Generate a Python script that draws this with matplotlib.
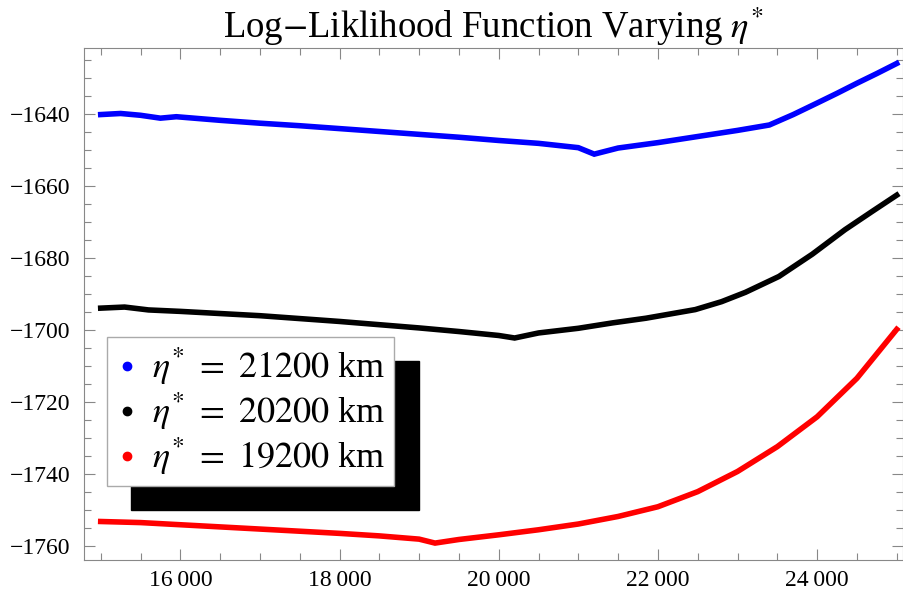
import matplotlib
matplotlib.use('Agg')
from matplotlib import pyplot as plt
from matplotlib.lines import Line2D
from matplotlib.ticker import FuncFormatter, MultipleLocator

plt.rcParams['font.family'] = ['Liberation Serif', 'DejaVu Serif']
plt.rcParams['mathtext.fontset'] = 'stix'

# log-likelihood curves for three values of eta*
etaBlue = [15000, 15250, 15500, 15750, 15950, 16500, 17000, 17500, 18000, 18500, 19000,
           19500, 20000, 20500, 21000, 21200, 21500, 22000, 22500, 23000, 23400, 23700,
           24000, 24250, 24500, 24750, 25000]
llBlue = [-1640.2, -1639.9, -1640.4, -1641.2, -1640.8, -1641.8, -1642.6, -1643.3, -1644.1,
          -1644.9, -1645.7, -1646.5, -1647.4, -1648.2, -1649.4, -1651.2, -1649.5, -1648.0,
          -1646.3, -1644.6, -1643.1, -1640.2, -1637.0, -1634.3, -1631.5, -1628.8, -1626.0]

etaBlack = [15000, 15300, 15600, 16000, 16500, 17000, 17500, 18000, 18500, 19000, 19500,
            20000, 20200, 20500, 21000, 21430, 21850, 22470, 22800, 23100, 23520, 23940,
            24350, 24700, 25000]
llBlack = [-1694.0, -1693.7, -1694.5, -1694.9, -1695.5, -1696.1, -1696.9, -1697.7, -1698.6,
           -1699.5, -1700.5, -1701.6, -1702.3, -1700.9, -1699.6, -1698.1, -1696.8, -1694.4,
           -1692.2, -1689.6, -1685.2, -1679.0, -1672.2, -1667.0, -1662.6]

etaRed = [15000, 15500, 16000, 16500, 17000, 17500, 18000, 18500, 19000, 19200, 19500,
          20000, 20500, 21000, 21500, 22000, 22500, 23000, 23500, 24000, 24500, 25000]
llRed = [-1753.3, -1753.6, -1754.2, -1754.8, -1755.4, -1756.0, -1756.6, -1757.3, -1758.2,
         -1759.3, -1758.3, -1757.0, -1755.6, -1754.0, -1751.9, -1749.2, -1745.0, -1739.4,
         -1732.5, -1724.2, -1713.5, -1699.9]

legendLabels = [r'$\eta^{*}\ =\ 21200$ km', r'$\eta^{*}\ =\ 20200$ km',
                r'$\eta^{*}\ =\ 19200$ km']
colors = ['#0000ff', '#000000', '#ff0000']

fig = plt.figure(figsize=(9.04, 5.93), dpi=100)
ax = fig.add_axes([84 / 904, 33 / 593, 819 / 904, 512 / 593])

for x, y, c in zip([etaBlue, etaBlack, etaRed], [llBlue, llBlack, llRed], colors):
    ax.plot(x, y, color=c, linewidth=4, solid_joinstyle='miter')

ax.set_xlim(14790, 25079)
ax.set_ylim(-1764.0, -1621.7)

ax.xaxis.set_major_locator(MultipleLocator(2000))
ax.xaxis.set_minor_locator(MultipleLocator(500))
ax.yaxis.set_major_locator(MultipleLocator(20))
ax.yaxis.set_minor_locator(MultipleLocator(5))
ax.xaxis.set_major_formatter(FuncFormatter(lambda v, p: '%d\u2009%03d' % (int(v) // 1000, int(v) % 1000)))
ax.yaxis.set_major_formatter(FuncFormatter(lambda v, p: '\u2212%d' % abs(int(round(v)))))

ax.tick_params(which='both', direction='in', top=True, right=True, color='#888888', width=0.8)
ax.tick_params(which='major', length=8, labelsize=17, pad=7)
ax.tick_params(which='minor', length=5)
ax.tick_params(axis='y', which='major', pad=10)
for s in ax.spines.values():
    s.set_color('#888888')
    s.set_linewidth(0.8)

ax.set_title(r'Log$-$Liklihood Function Varying $\eta^{*}$', fontsize=26.5, pad=5)

handles = [Line2D([], [], marker='o', linestyle='none', color=c, markersize=6) for c in colors]
leg = ax.legend(handles, legendLabels, loc='upper left', bbox_to_anchor=(0.0281, 0.4355),
                borderaxespad=0, fontsize=26, fancybox=False, framealpha=1,
                edgecolor='#aaaaaa', labelspacing=0.1, handlelength=0.6, handletextpad=0.4,
                borderpad=0.25,
                shadow={'ox': 17.5, 'oy': -17, 'color': 'black', 'alpha': 1})
leg.get_frame().set_linewidth(1)

fig.savefig('out.png', dpi=100)
